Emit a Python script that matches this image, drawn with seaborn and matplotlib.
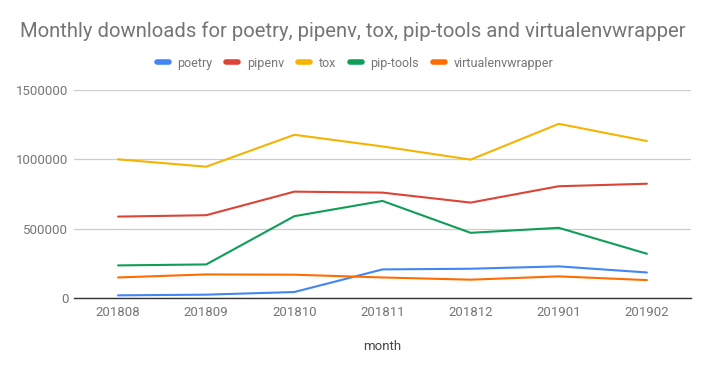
import pandas as pd
import matplotlib.pyplot as plt
import seaborn as sns

# values
months = ['201808', '201809', '201810', '201811', '201812', '201901', '201902']
poetry = [19000, 24000, 43000, 206000, 211000, 228000, 184000]
pipenv = [587000, 597000, 767000, 760000, 688000, 806000, 824000]
tox = [1000000, 947000, 1177000, 1093000, 998000, 1256000, 1132000]
pip_tools = [235000, 242000, 590000, 700000, 470000, 506000, 319000]
virtualenvwrapper = [148000, 170000, 168000, 148000, 132000, 156000, 129000]

names = ['poetry', 'pipenv', 'tox', 'pip-tools', 'virtualenvwrapper']
colors = ['#4285F4', '#DB4437', '#F4B400', '#0F9D58', '#FF6D01']

series = [poetry, pipenv, tox, pip_tools, virtualenvwrapper]
df = pd.DataFrame([
    {'month': m, 'downloads': v, 'package': n}
    for n, vals in zip(names, series)
    for m, v in zip(months, vals)
])

sns.set_style('white')
plt.rcParams['font.family'] = ['Roboto', 'DejaVu Sans']
grey = '#757575'

fig = plt.figure(figsize=(7.1, 3.71), dpi=100)
ax = fig.add_axes([0.1042, 0.1968, 0.8690, 0.5606])

sns.lineplot(data=df, x='month', y='downloads', hue='package',
             palette=dict(zip(names, colors)), linewidth=1.5, ax=ax,
             legend=False, sort=False)

ax.set_xlim(-0.5, 6.5)
ax.set_ylim(0, 1500000)
ax.set_yticks([0, 500000, 1000000, 1500000])
ax.set_yticklabels(['0', '500000', '1000000', '1500000'])
ax.grid(axis='y', color='#cccccc', linewidth=0.9)
ax.set_axisbelow(True)
for s in ['left', 'right', 'top']:
    ax.spines[s].set_visible(False)
ax.spines['bottom'].set_color('#333333')
ax.spines['bottom'].set_linewidth(1.0)
ax.tick_params(length=0, colors=grey, labelsize=9.5)
ax.tick_params(axis='y', pad=4)
ax.tick_params(axis='x', pad=6)
ax.set_ylabel('')
ax.set_xlabel('month', color='#444444', fontsize=9.5, labelpad=15)

fig.text(0.028, 0.915, 'Monthly downloads for poetry, pipenv, tox, pip-tools and virtualenvwrapper',
         fontsize=14.6, color=grey, ha='left', va='center')

handles = [plt.Line2D([], [], color=c, linewidth=4) for c in colors]
fig.legend(handles, names, loc='center', bbox_to_anchor=(0.5, 0.83), ncol=5,
           frameon=False, fontsize=9, labelcolor=grey, handlelength=0.96,
           columnspacing=1.1, handletextpad=0.7)

fig.savefig('out.png', dpi=100)
